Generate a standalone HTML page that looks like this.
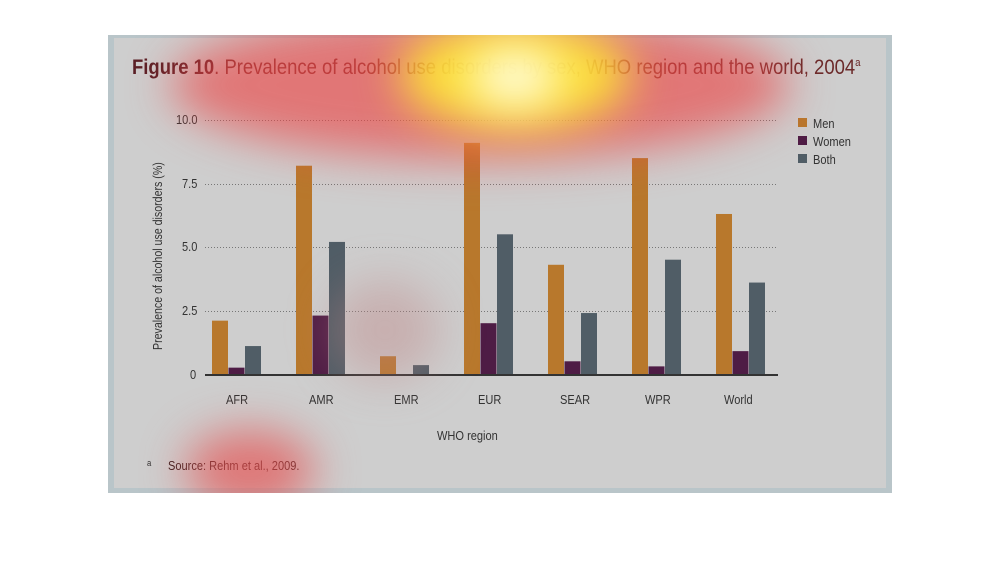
<!DOCTYPE html>
<html><head><style>
body{margin:0;width:1002px;height:588px;background:#fff;position:relative;overflow:hidden;font-family:"Liberation Sans Narrow","Liberation Sans",sans-serif}
.panel{position:absolute;left:108px;top:35px;width:784px;height:458px;background:#b9c5c9}
.inner{position:absolute;left:114px;top:38px;width:772px;height:450px;background:#cecece}
.t{position:absolute;white-space:nowrap;color:#333;font-size:13px;transform:scaleX(.85);transform-origin:left top}
.clip{position:absolute;left:108px;top:35px;width:784px;height:458px;overflow:hidden}
.hm{position:absolute;border-radius:50%;filter:blur(22px)}
</style></head><body>
<div class="panel"></div><div class="inner"></div>
<svg style="position:absolute;left:0;top:0" width="1002" height="588">
<g stroke="#777" stroke-dasharray="1,2" stroke-width="1">
<line x1="205" x2="778" y1="120.5" y2="120.5"/><line x1="205" x2="778" y1="184.5" y2="184.5"/>
<line x1="205" x2="778" y1="247.5" y2="247.5"/><line x1="205" x2="778" y1="311.5" y2="311.5"/>
</g>
<g id="bars"></g>
<line x1="205" x2="778" y1="375" y2="375" stroke="#333" stroke-width="2"/>
<rect x="798" y="118" width="9" height="9" fill="#b8782c"/>
<rect x="798" y="136" width="9" height="9" fill="#4e1c45"/>
<rect x="798" y="154" width="9" height="9" fill="#505d66"/>
</svg>
<div class="t" style="left:132px;top:56px;font-size:21px;color:#6b2a2a;transform:scaleX(.88)"><b style="color:#5a1f25">Figure 10</b>. Prevalence of alcohol use disorders by sex, WHO region and the world, 2004<sup style="font-size:11px">a</sup></div>
<div class="t" style="left:176px;top:112px">10.0</div>
<div class="t" style="left:182px;top:176px">7.5</div>
<div class="t" style="left:182px;top:239px">5.0</div>
<div class="t" style="left:182px;top:303px">2.5</div>
<div class="t" style="left:190px;top:367px">0</div>
<div class="t" style="left:151px;top:350px;transform:rotate(-90deg) scaleX(.85);transform-origin:left top;font-size:12.5px">Prevalence of alcohol use disorders (%)</div>
<div class="t" style="left:813px;top:116px">Men</div>
<div class="t" style="left:813px;top:134px">Women</div>
<div class="t" style="left:813px;top:152px">Both</div>
<div class="t" style="left:226px;top:392px">AFR</div>
<div class="t" style="left:309px;top:392px">AMR</div>
<div class="t" style="left:394px;top:392px">EMR</div>
<div class="t" style="left:478px;top:392px">EUR</div>
<div class="t" style="left:560px;top:392px">SEAR</div>
<div class="t" style="left:645px;top:392px">WPR</div>
<div class="t" style="left:724px;top:392px">World</div>
<div class="t" style="left:437px;top:428px">WHO region</div>
<div class="t" style="left:147px;top:458px;font-size:9px">a</div>
<div class="t" style="left:168px;top:458px;color:#3a2020">Source: Rehm et al., 2009.</div>
<div class="clip">
<div class="hm" style="left:62px;top:-25px;width:620px;height:150px;background:rgba(235,70,70,.65)"></div>
<div class="hm" style="left:292px;top:-15px;width:230px;height:110px;background:rgba(255,235,50,.9)"></div>
<div class="hm" style="left:362px;top:15px;width:90px;height:55px;background:rgba(255,255,235,.95)"></div>
<div class="hm" style="left:77px;top:395px;width:130px;height:80px;background:rgba(230,80,80,.7)"></div>
<div class="hm" style="left:222px;top:245px;width:110px;height:100px;background:rgba(190,130,130,.4)"></div>
</div>
<script>
var d=[[2.1,.25,1.1],[8.2,2.3,5.2],[.7,0,.35],[9.1,2.0,5.5],[4.3,.5,2.4],[8.5,.3,4.5],[6.3,.9,3.6]],c=["#b8782c","#4e1c45","#505d66"],s="";
d.forEach(function(g,i){g.forEach(function(v,j){if(v>0){var h=v*25.4;s+='<rect x="'+(212+i*84+j*16.5)+'" y="'+(374-h)+'" width="16" height="'+h+'" fill="'+c[j]+'"/>';}});});
document.getElementById("bars").innerHTML=s;
</script>
</body></html>
